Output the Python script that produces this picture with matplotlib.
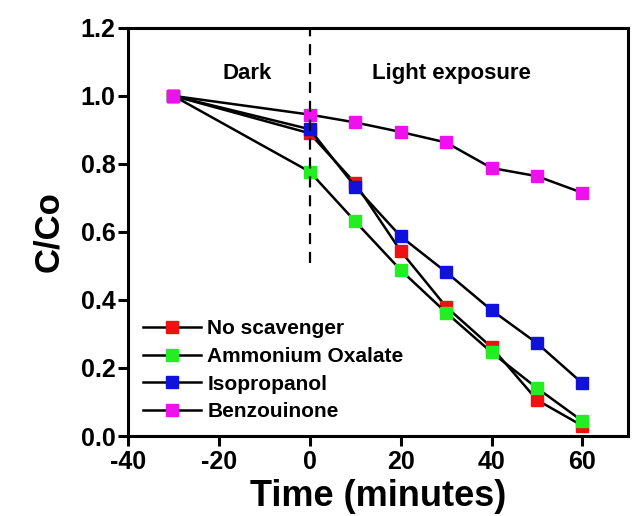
import matplotlib.pyplot as plt

# ==========================================
# DATA
# ==========================================

time = [-30, 0, 10, 20, 30, 40, 50, 60]

no_scavenger = [1.0, 0.89, 0.743, 0.544, 0.380, 0.261, 0.106, 0.030]
ammonium_oxalate = [1.0, 0.777, 0.631, 0.488, 0.363, 0.246, 0.141, 0.044]
isopropanol = [1.0, 0.902, 0.733, 0.587, 0.482, 0.370, 0.273, 0.155]
benzoquinone = [1.0, 0.945, 0.922, 0.894, 0.863, 0.788, 0.764, 0.715]

series = [
    ("No scavenger", no_scavenger, "#ee1111"),
    ("Ammonium Oxalate", ammonium_oxalate, "#22ee22"),
    ("Isopropanol", isopropanol, "#1111dd"),
    ("Benzouinone", benzoquinone, "#ee11ee"),
]

x_ticks = [-40, -20, 0, 20, 40, 60]
y_ticks = [0.0, 0.2, 0.4, 0.6, 0.8, 1.0, 1.2]

# ==========================================
# FIGURE
# ==========================================

plt.rcParams['font.family'] = ['Liberation Sans', 'DejaVu Sans']
plt.rcParams['font.weight'] = 'bold'
plt.rcParams['axes.unicode_minus'] = False

fig = plt.figure(figsize=(6.32, 5.16), dpi=100)
ax = fig.add_axes([0.2025, 0.155, 0.791, 0.791])

for label, values, color in series:
    ax.plot(
        time,
        values,
        color="black",
        linewidth=1.8,
        marker="s",
        markersize=8.5,
        markerfacecolor=color,
        markeredgecolor=color,
        label=label
    )

# dark / light separator
ax.plot([0, 0], [0.51, 1.2], color="black", linestyle=(0, (5, 3.5)), linewidth=1.6)

ax.text(-13.8, 1.065, "Dark", fontsize=16, fontweight="bold", ha="center", va="center")
ax.text(31.2, 1.065, "Light exposure", fontsize=16, fontweight="bold", ha="center", va="center")

# ==========================================
# AXES
# ==========================================

ax.set_xlim(-40, 70)
ax.set_ylim(0, 1.2)
ax.set_xticks(x_ticks)
ax.set_yticks(y_ticks)
ax.set_yticklabels([f"{v:.1f}" for v in y_ticks])

for spine in ax.spines.values():
    spine.set_linewidth(2.2)

ax.tick_params(axis="both", which="major", direction="out", width=2.2, length=7,
               labelsize=18, top=False, right=False)
ax.tick_params(axis="x", pad=3)
ax.tick_params(axis="y", pad=2)
for lbl in ax.get_xticklabels() + ax.get_yticklabels():
    lbl.set_fontweight("bold")

ax.set_xlabel("Time (minutes)", fontsize=26, fontweight="bold", labelpad=4)
ax.set_ylabel("C/Co", fontsize=25, fontweight="bold", labelpad=11)

leg = ax.legend(
    loc="lower left",
    bbox_to_anchor=(0.0, 0.0),
    frameon=False,
    fontsize=15,
    handlelength=2.8,
    handletextpad=0.3,
    labelspacing=0.42,
    borderaxespad=0.3
)
for t in leg.get_texts():
    t.set_fontweight("bold")

fig.savefig("out.png", dpi=100)
